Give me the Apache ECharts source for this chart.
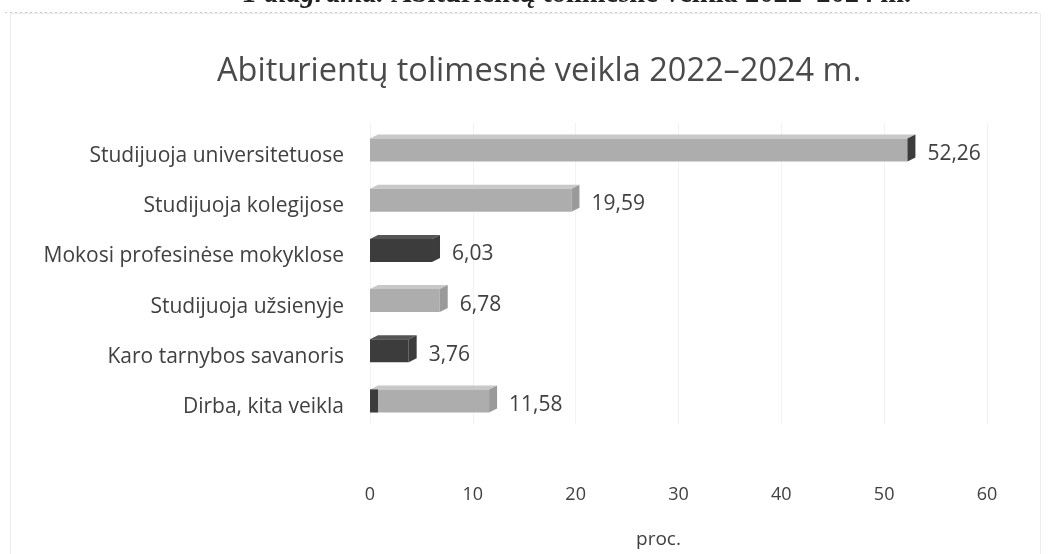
<!DOCTYPE html>
<html>
<head>
<meta charset="utf-8">
<script src="https://cdn.jsdelivr.net/npm/echarts@6/dist/echarts.min.js"></script>
<style>
  html, body { margin: 0; padding: 0; background: #fff; }
  #chart { width: 1049px; height: 554px; }
</style>
</head>
<body>
<div id="chart"></div>
<script>
// duomenys (proc.)
const categories = [
  'Studijuoja universitetuose',
  'Studijuoja kolegijose',
  'Mokosi profesinėse mokyklose',
  'Studijuoja užsienyje',
  'Karo tarnybos savanoris',
  'Dirba, kita veikla'
];
const values = [52.26, 19.59, 6.03, 6.78, 3.76, 11.58];
// tamsūs stulpeliai (kaip skenuotame paveiksle)
const darkBar = [false, false, true, false, true, false];
const darkEnd = [true, false, true, false, true, false];
const darkStart = [false, false, false, false, false, true];
const xTicks = [0, 10, 20, 30, 40, 50, 60];

const fontFamily = '"Open Sans", "Noto Sans", sans-serif';
const textColor = '#404040';

const GRAY = { front: '#adadad', top: '#c8c8c8', side: '#9a9a9a' };
const DARK = { front: '#3c3c3c', top: '#555555', side: '#2f2f2f' };

const fmt = v => v.toFixed(2).replace('.', ',');

const renderBar = (params, api) => {
  const i = api.value(1);
  const v = api.value(0);
  const p0 = api.coord([0, i]);
  const p1 = api.coord([v, i]);
  const h = 23, dx = 8, dy = 4;
  const x0 = p0[0], x1 = p1[0];
  const y0 = p0[1] - h / 2 + 2;
  const c = darkBar[i] ? DARK : GRAY;
  const endColor = darkEnd[i] ? DARK.front : c.side;
  const children = [
    { type: 'polygon', shape: { points: [[x0, y0], [x0 + dx, y0 - dy], [x1 + dx, y0 - dy], [x1, y0]] }, style: { fill: c.top } },
    { type: 'rect', shape: { x: x0, y: y0, width: x1 - x0, height: h }, style: { fill: c.front } },
    { type: 'polygon', shape: { points: [[x1, y0], [x1 + dx, y0 - dy], [x1 + dx, y0 + h - dy], [x1, y0 + h]] }, style: { fill: endColor } }
  ];
  if (darkStart[i]) {
    children.push({ type: 'rect', shape: { x: x0, y: y0, width: 8, height: h }, style: { fill: DARK.front } });
  }
  children.push({
    type: 'text',
    style: {
      x: x1 + dx + 12, y: p1[1] + 6,
      text: fmt(v),
      fill: textColor, font: '21px ' + fontFamily,
      verticalAlign: 'middle', align: 'left'
    }
  });
  return { type: 'group', children };
};

const chart = echarts.init(document.getElementById('chart'));
chart.setOption({
  backgroundColor: '#fff',
  animation: false,
  title: {
    text: 'Abiturientų tolimesnė veikla 2022–2024 m.',
    left: 212,
    top: 50,
    textStyle: { color: '#4a4a4a', fontSize: 32.5, fontWeight: 'normal', fontFamily }
  },
  graphic: [
    {
      type: 'text', left: 243, top: -20,
      style: {
        text: '{i|1 diagrama.} Abiturientų tolimesnė veikla 2022–2024 m.',
        font: 'bold 28.5px "Liberation Serif", serif',
        fill: '#222',
        rich: { i: { font: 'italic bold 28.5px "Liberation Serif", serif', fill: '#222' } }
      }
    },
    {
      type: 'line', shape: { x1: 5, y1: 12.5, x2: 1040, y2: 12.5 },
      style: { stroke: '#c8c8c8', lineWidth: 1, lineDash: [2, 3] }
    },
    {
      type: 'rect', shape: { x: 10.5, y: 13.5, width: 1030, height: 560 },
      style: { fill: null, stroke: '#ececec', lineWidth: 1 }, silent: true
    }
  ],
  grid: { left: 370, right: 62, top: 123, bottom: 128 },
  xAxis: {
    type: 'value',
    min: 0, max: 60, interval: 10,
    name: 'proc.',
    nameLocation: 'middle',
    nameGap: 106,
    nameTextStyle: { color: textColor, fontSize: 19, fontFamily, padding: [0, 40, 0, 0] },
    axisLine: { show: false },
    axisTick: { show: false },
    axisLabel: {
      color: textColor, fontSize: 18, fontFamily, margin: 62,
      formatter: v => (xTicks.includes(v) ? String(v) : '')
    },
    splitLine: { show: true, lineStyle: { color: '#f2f2f2', width: 1 } }
  },
  yAxis: {
    type: 'category',
    data: categories,
    inverse: true,
    axisLine: { show: false },
    axisTick: { show: false },
    axisLabel: { color: textColor, fontSize: 21, fontFamily, margin: 26, verticalAlign: 'top', lineHeight: 16 }
  },
  series: [{
    type: 'custom',
    renderItem: renderBar,
    encode: { x: 0, y: 1 },
    data: values.map((v, i) => [v, i])
  }]
});
</script>
</body>
</html>
